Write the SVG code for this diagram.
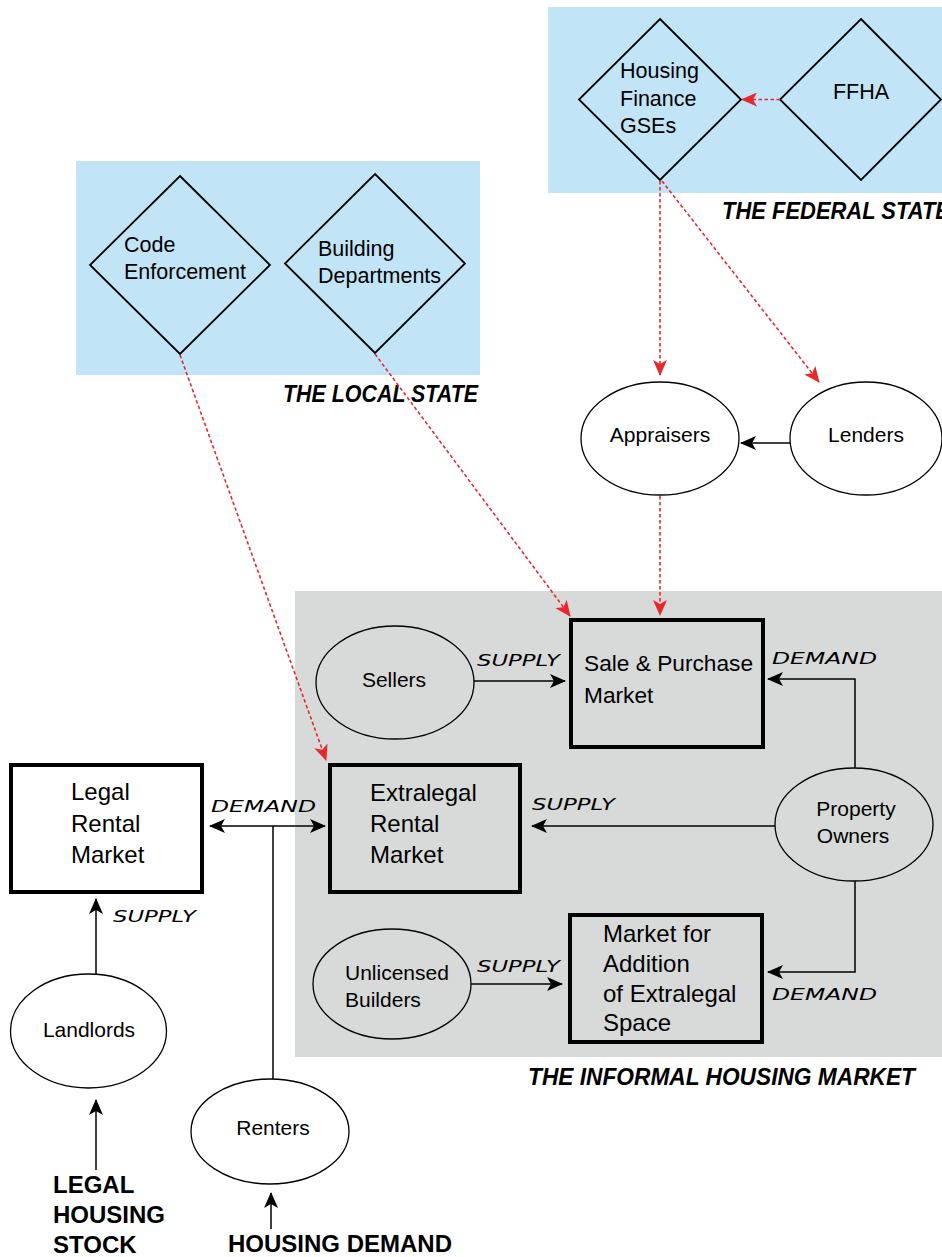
<svg xmlns="http://www.w3.org/2000/svg" width="942" height="1257" viewBox="0 0 942 1257">
<style>
.reg{fill:#c2e4f7}
.inf{fill:#d8dad9}
.dia{fill:none;stroke:#000;stroke-width:1.8}
.ell{stroke:#000;stroke-width:1.3}
.box{fill:none;stroke:#000;stroke-width:4}
.t{font-family:"Liberation Sans",Arial,sans-serif;fill:#000}
.n21{font-size:21px}
.n22{font-size:21.5px}
.n24{font-size:24px}
.lab{font-family:"DejaVu Sans","Liberation Sans",sans-serif;font-style:italic;font-size:16px;fill:#000}
.ttl{font-family:"Liberation Sans",Arial,sans-serif;font-style:italic;font-weight:bold;font-size:23px;fill:#000}
.big{font-family:"Liberation Sans",Arial,sans-serif;font-weight:bold;font-size:24px;fill:#000}
.blk{fill:none;stroke:#000;stroke-width:1.5}
.red{fill:none;stroke:#e8282c;stroke-width:1.6;stroke-dasharray:3.5 2.5}
</style>
<defs>
<marker id="ab" markerUnits="userSpaceOnUse" markerWidth="16" markerHeight="14" viewBox="0 0 16 14" refX="15" refY="7" orient="auto-start-reverse">
<path d="M0,0 L16,7 L0,14 L4,7 z" fill="#000"/>
</marker>
<marker id="ar" markerUnits="userSpaceOnUse" markerWidth="16" markerHeight="14" viewBox="0 0 16 14" refX="15" refY="7" orient="auto">
<path d="M0,0 L16,7 L0,14 L4,7 z" fill="#e8282c"/>
</marker>
</defs>

<g id="regions">
<rect class="reg" x="548" y="7" width="394" height="186"/>
<rect class="reg" x="76" y="161" width="404" height="214"/>
<rect class="inf" x="295" y="591" width="647" height="466"/>
<text class="ttl" x="722" y="219" textLength="228" lengthAdjust="spacingAndGlyphs">THE FEDERAL STATE</text>
<text class="ttl" x="283" y="402" textLength="195" lengthAdjust="spacingAndGlyphs">THE LOCAL STATE</text>
<text class="ttl" x="528" y="1085" textLength="387" lengthAdjust="spacingAndGlyphs">THE INFORMAL HOUSING MARKET</text>
</g>

<g id="gses">
<polygon class="dia" points="660,19 741,99.5 660,180 579,99.5"/>
<text class="t n22" x="620" y="78">Housing</text>
<text class="t n22" x="620" y="106">Finance</text>
<text class="t n22" x="620" y="133">GSEs</text>
</g>
<g id="ffha">
<polygon class="dia" points="861,19 941,99.5 861,180 780,99.5"/>
<text class="t n22" x="861" y="99" text-anchor="middle">FFHA</text>
</g>
<g id="code-enforcement">
<polygon class="dia" points="180,176 270,265 180,354 90,265"/>
<text class="t n22" x="124" y="252">Code</text>
<text class="t n22" x="124" y="279">Enforcement</text>
</g>
<g id="building-departments">
<polygon class="dia" points="375,174 465,263.5 375,353 285,263.5"/>
<text class="t n22" x="318" y="256">Building</text>
<text class="t n22" x="318" y="283">Departments</text>
</g>

<g id="appraisers">
<ellipse class="ell" fill="#fff" cx="660" cy="438.5" rx="79" ry="56.5"/>
<text class="t n21" x="660" y="442" text-anchor="middle">Appraisers</text>
</g>
<g id="lenders">
<ellipse class="ell" fill="#fff" cx="866" cy="438.5" rx="76" ry="56.5"/>
<text class="t n21" x="866" y="442" text-anchor="middle">Lenders</text>
</g>

<g id="sellers">
<ellipse class="ell" fill="none" cx="395" cy="682.5" rx="79" ry="56.5"/>
<text class="t n21" x="394" y="687" text-anchor="middle">Sellers</text>
</g>
<g id="sale-purchase-market">
<rect class="box" x="571" y="620" width="192" height="127"/>
<text class="t" font-size="22.7" x="584" y="671">Sale &amp; Purchase</text>
<text class="t" font-size="22.7" x="584" y="703">Market</text>
</g>
<g id="property-owners">
<ellipse class="ell" fill="none" cx="854" cy="824.5" rx="79" ry="56.5"/>
<text class="t n21" x="856" y="816" text-anchor="middle">Property</text>
<text class="t n21" x="853" y="843" text-anchor="middle">Owners</text>
</g>
<g id="extralegal-rental-market">
<rect class="box" x="330" y="765" width="190" height="127"/>
<text class="t n24" x="370" y="801">Extralegal</text>
<text class="t n24" x="370" y="832">Rental</text>
<text class="t n24" x="370" y="863">Market</text>
</g>
<g id="unlicensed-builders">
<ellipse class="ell" fill="none" cx="392" cy="984" rx="79" ry="55"/>
<text class="t n21" x="345" y="980">Unlicensed</text>
<text class="t n21" x="345" y="1007">Builders</text>
</g>
<g id="market-addition">
<rect class="box" x="570" y="915" width="192" height="127"/>
<text class="t n24" x="603" y="942">Market for</text>
<text class="t n24" x="603" y="972">Addition</text>
<text class="t n24" x="603" y="1002">of Extralegal</text>
<text class="t n24" x="603" y="1031">Space</text>
</g>
<g id="legal-rental-market">
<rect class="box" x="11" y="765" width="191" height="127"/>
<text class="t n24" x="71" y="800">Legal</text>
<text class="t n24" x="71" y="832">Rental</text>
<text class="t n24" x="71" y="863">Market</text>
</g>
<g id="landlords">
<ellipse class="ell" fill="#fff" cx="88.5" cy="1031" rx="78" ry="57"/>
<text class="t n21" x="89" y="1037" text-anchor="middle">Landlords</text>
</g>
<g id="renters">
<ellipse class="ell" fill="#fff" cx="270" cy="1131.5" rx="79" ry="52.5"/>
<text class="t n21" x="273" y="1135" text-anchor="middle">Renters</text>
</g>
<g id="legal-housing-stock">
<text class="big" x="53" y="1193">LEGAL</text>
<text class="big" x="53" y="1223">HOUSING</text>
<text class="big" x="53" y="1253">STOCK</text>
</g>
<g id="housing-demand">
<text class="big" x="228" y="1252">HOUSING DEMAND</text>
</g>

<g id="connectors">
<line class="red" x1="780" y1="99.5" x2="742" y2="99.5" marker-end="url(#ar)"/>
<line class="red" x1="660" y1="181" x2="660" y2="375" marker-end="url(#ar)"/>
<line class="red" x1="662" y1="181" x2="819" y2="382" marker-end="url(#ar)"/>
<line class="red" x1="660" y1="496" x2="660" y2="615" marker-end="url(#ar)"/>
<line class="red" x1="375" y1="354" x2="570" y2="616" marker-end="url(#ar)"/>
<line class="red" x1="180" y1="355" x2="326" y2="760" marker-end="url(#ar)"/>

<line class="blk" x1="790" y1="443" x2="741" y2="443" marker-end="url(#ab)"/>
<line class="blk" x1="474" y1="681" x2="565" y2="681" marker-end="url(#ab)"/>
<polyline class="blk" points="855,768 855,679 768,679" marker-end="url(#ab)"/>
<line class="blk" x1="775" y1="826" x2="532" y2="826" marker-end="url(#ab)"/>
<polyline class="blk" points="855,881 855,972 768,972" marker-end="url(#ab)"/>
<line class="blk" x1="471" y1="984" x2="562" y2="984" marker-end="url(#ab)"/>
<line class="blk" x1="210" y1="826" x2="325" y2="826" marker-start="url(#ab)" marker-end="url(#ab)"/>
<line class="blk" x1="273" y1="826" x2="273" y2="1079"/>
<line class="blk" x1="96" y1="974" x2="96" y2="899" marker-end="url(#ab)"/>
<line class="blk" x1="96" y1="1170" x2="96" y2="1100" marker-end="url(#ab)"/>
<line class="blk" x1="271" y1="1229" x2="271" y2="1193" marker-end="url(#ab)"/>

<text class="lab" x="211" y="812" textLength="105" lengthAdjust="spacingAndGlyphs">DEMAND</text>
<text class="lab" x="113" y="922" textLength="83" lengthAdjust="spacingAndGlyphs">SUPPLY</text>
<text class="lab" x="477" y="666" textLength="83" lengthAdjust="spacingAndGlyphs">SUPPLY</text>
<text class="lab" x="772" y="664" textLength="105" lengthAdjust="spacingAndGlyphs">DEMAND</text>
<text class="lab" x="532" y="810" textLength="83" lengthAdjust="spacingAndGlyphs">SUPPLY</text>
<text class="lab" x="477" y="972" textLength="83" lengthAdjust="spacingAndGlyphs">SUPPLY</text>
<text class="lab" x="772" y="1000" textLength="105" lengthAdjust="spacingAndGlyphs">DEMAND</text>
</g>
</svg>
